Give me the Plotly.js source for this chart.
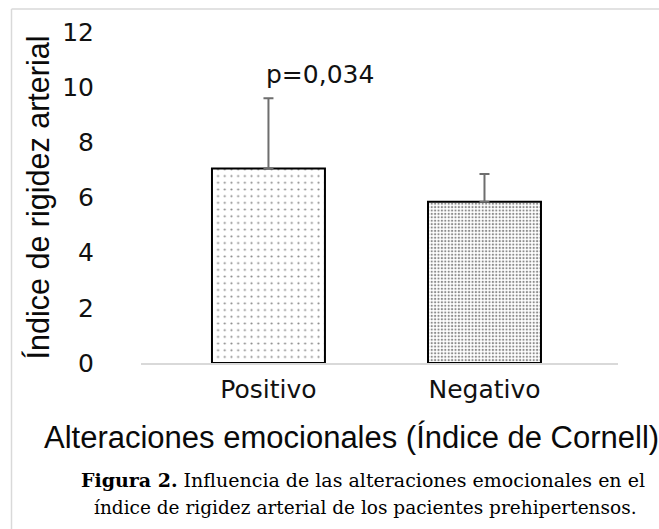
<!DOCTYPE html>
<html><head><meta charset="utf-8">
<script src="https://cdn.plot.ly/plotly-3.0.1.min.js"></script>
<style>html,body{margin:0;padding:0;background:#fff;} #chart{width:659px;height:529px;}</style>
</head><body><div id="chart"></div>
<script>
// ---- data ----
const categories = ["Positivo", "Negativo"];
const means = [7.05, 5.85];
const errorUp = [2.55, 1.0];
const errorDown = [0, 0];
const yTickValues = [0, 2, 4, 6, 8, 10, 12];
const yTickLabels = ["0", "2", "4", "6", "8", "10", "12"];
const pValueText = "p=0,034";
const yTitle = "Índice de rigidez arterial";
const xTitle = "Alteraciones emocionales (Índice de Cornell)";
const captionLine1 = "<b>Figura 2.</b> Influencia de las alteraciones emocionales en el";
const captionLine2 = "índice de rigidez arterial de los pacientes prehipertensos.";

// ---- layout geometry (pixels) ----
const W = 659, H = 529;
const M = {l: 141, r: 41, t: 32, b: 166};
const plotW = W - M.l - M.r, plotH = H - M.t - M.b;
const px2paperX = p => (p - M.l) / plotW;
const px2paperY = p => (H - M.b - p) / plotH;

const trace = {
  type: 'bar',
  x: categories,
  y: means,
  width: [0.523, 0.523],
  marker: {
    color: '#ffffff',
    line: {color: '#000000', width: 2},
    pattern: {
      shape: ['.', '.'],
      size: [6.7, 3.4],
      solidity: [0.08, 0.33],
      fgcolor: ['#111111', '#1a1a1a'],
      bgcolor: '#ffffff',
      fillmode: 'overlay'
    }
  },
  error_y: {
    type: 'data',
    symmetric: false,
    array: errorUp,
    arrayminus: errorDown,
    color: '#6e6e6e',
    thickness: 2,
    width: 5
  },
  hoverinfo: 'skip'
};

const layout = {
  width: W, height: H,
  margin: M,
  paper_bgcolor: '#ffffff',
  plot_bgcolor: '#ffffff',
  showlegend: false,
  font: {family: 'DejaVu Sans', color: '#111111'},
  xaxis: {
    type: 'category',
    range: [-0.59, 1.618],
    showline: true, linecolor: '#d9d9d9', linewidth: 1.5,
    showgrid: false, zeroline: false, ticks: '',
    tickfont: {family: 'DejaVu Sans', size: 25, color: '#111111'},
    ticklabelstandoff: 3,
    fixedrange: true
  },
  yaxis: {
    range: [0, 12],
    tickvals: yTickValues, ticktext: yTickLabels,
    showline: false, showgrid: false, zeroline: false, ticks: '',
    tickfont: {family: 'DejaVu Sans', size: 25, color: '#111111'},
    ticklabelstandoff: 46,
    title: {text: yTitle, font: {family: 'Liberation Sans, Arial', size: 30.5, color: '#0a0a0a'}, standoff: 3},
    fixedrange: true
  },
  annotations: [
    {text: pValueText, xref: 'x', yref: 'y', x: 0.24, y: 10.46, showarrow: false,
     font: {family: 'DejaVu Sans', size: 25, color: '#111111'}, xanchor: 'center', yanchor: 'middle'},
    {text: xTitle, xref: 'paper', yref: 'paper', x: px2paperX(351.5), y: px2paperY(437), showarrow: false,
     font: {family: 'Liberation Sans, Arial', size: 31, color: '#0a0a0a'}, xanchor: 'center', yanchor: 'middle'},
    {text: captionLine1, xref: 'paper', yref: 'paper', x: px2paperX(362.5), y: px2paperY(480), showarrow: false,
     font: {family: 'DejaVu Serif', size: 19, color: '#000000'}, xanchor: 'center', yanchor: 'middle'},
    {text: captionLine2, xref: 'paper', yref: 'paper', x: px2paperX(365), y: px2paperY(507), showarrow: false,
     font: {family: 'DejaVu Serif', size: 18.5, color: '#000000'}, xanchor: 'center', yanchor: 'middle'}
  ],
  shapes: [
    {type: 'line', xref: 'paper', yref: 'paper', x0: px2paperX(11.5), x1: px2paperX(11.5), y0: px2paperY(9), y1: px2paperY(540),
     line: {color: '#d9d9d9', width: 1.5}},
    {type: 'line', xref: 'paper', yref: 'paper', x0: px2paperX(11.5), x1: px2paperX(670), y0: px2paperY(9), y1: px2paperY(9),
     line: {color: '#d9d9d9', width: 1.5}}
  ]
};

Plotly.newPlot('chart', [trace], layout, {displayModeBar: false, staticPlot: true});
</script>
</body></html>
